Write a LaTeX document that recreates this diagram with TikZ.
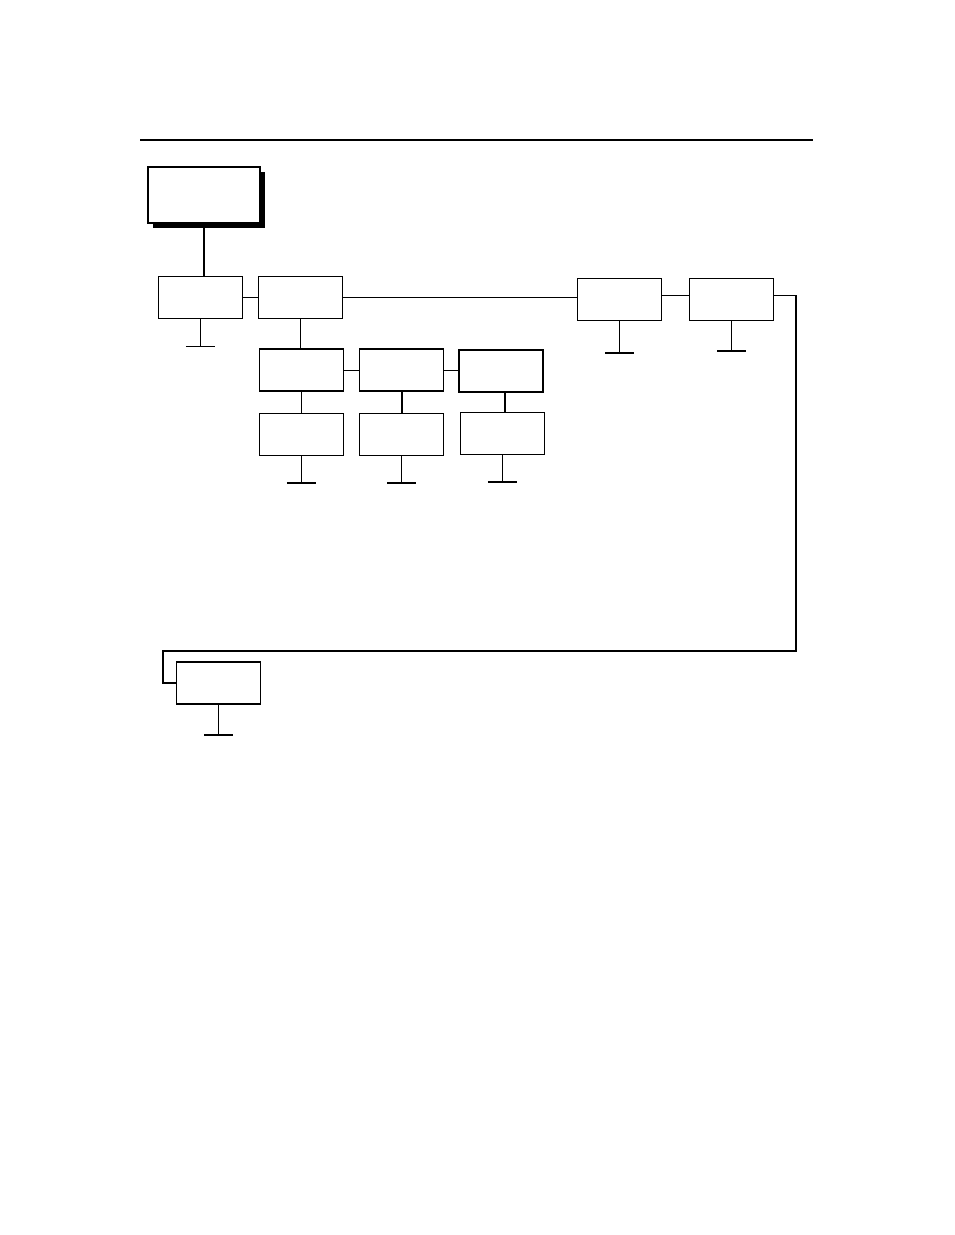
\documentclass[tikz,border=0pt]{standalone}
\usetikzlibrary{positioning,shadows}
\begin{document}
\begin{tikzpicture}[x=1pt,y=-1pt,
  menubox/.style={draw,line width=1.3pt,minimum width=84pt,minimum height=42pt,inner sep=0pt,fill=white},
  topbox/.style={menubox,line width=1.6pt,minimum width=112pt,minimum height=56pt,
    drop shadow={shadow xshift=5.5pt,shadow yshift=-4.5pt,fill=black,opacity=1}},
  link/.style={line width=0.9pt},
  route/.style={line width=1.7pt},
  stem/.style={line width=1.1pt},
  bar/.style={line width=1.7pt}]
\useasboundingbox (0,0) rectangle (954,1235);

\draw [line width=1.5pt] (140,140)--(813,140);

\node[topbox] (main) at (203.7,195) {};

\node[menubox] (A) at (200.3,297.7) {};
\node[menubox] (B) at (300.8,297.7) {};
\node[menubox] (C) at (619.7,299.5) {};
\node[menubox] (J) at (731.8,299.5) {};

\node[menubox] (D) at (301.3,370) {};
\node[menubox] (E) at (401.8,370) {};
\node[menubox] (F) at (501,371) {};

\node[menubox,line width=1pt] (G) at (301.3,434.3) {};
\node[menubox,line width=1pt] (H) at (401.8,434.3) {};
\node[menubox,line width=1pt] (I) at (502.3,433.7) {};

\node[menubox] (K) at (218.7,683) {};

\coordinate (turnR) at (796,651.3);
\coordinate (turnL) at (162.7,651.3);

\draw [route] (main.south)--(main.south |- A.north);
\draw [link] (A.east)--(B.west);
\draw [link] (B.east)--(B.east -| C.west);
\draw [route] ([yshift=4pt]C.east)--([yshift=4pt]J.west);
\draw [stem] (B.south)--(B.south |- D.north);
\draw [link] (D.east)--(E.west);
\draw [link] (E.east)--(E.east -| F.west);
\draw [stem] (D.south)--(G.north);
\draw [route] (E.south)--(H.north);
\draw [stem] ([xshift=4pt]F.south)--([xshift=4pt]F.south |- I.north);

\draw [route] ([yshift=4pt]J.east) -| (turnR) -- (turnL) |- (K.west);

\foreach \b/\len in {A/27,C/32,J/30,G/27,H/27,I/27,K/30}{
  \draw [stem] (\b.south)--++(0,\len) coordinate (\b end);
  \draw [bar] ([xshift=-14.5pt]\b end)--([xshift=14.5pt]\b end);
}
\end{tikzpicture}
\end{document}
